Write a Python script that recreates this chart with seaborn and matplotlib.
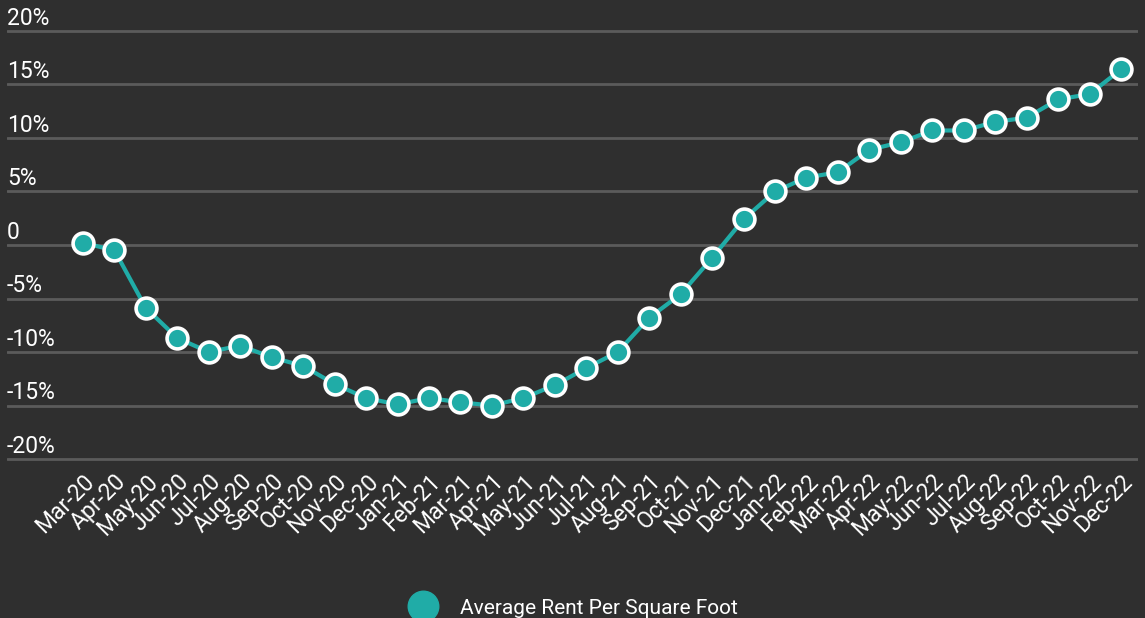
import matplotlib
matplotlib.use("Agg")
import matplotlib.pyplot as plt
from matplotlib.lines import Line2D
import seaborn as sns
import pandas as pd

months = ["Mar-20", "Apr-20", "May-20", "Jun-20", "Jul-20", "Aug-20", "Sep-20", "Oct-20",
          "Nov-20", "Dec-20", "Jan-21", "Feb-21", "Mar-21", "Apr-21", "May-21", "Jun-21",
          "Jul-21", "Aug-21", "Sep-21", "Oct-21", "Nov-21", "Dec-21", "Jan-22", "Feb-22",
          "Mar-22", "Apr-22", "May-22", "Jun-22", "Jul-22", "Aug-22", "Sep-22", "Oct-22",
          "Nov-22", "Dec-22"]
rent_change = [0.2, -0.5, -5.9, -8.7, -10.0, -9.4, -10.5, -11.3,
               -13.0, -14.3, -14.9, -14.3, -14.7, -15.0, -14.3, -13.1,
               -11.5, -10.0, -6.8, -4.6, -1.2, 2.4, 5.0, 6.3,
               6.8, 8.9, 9.6, 10.7, 10.7, 11.5, 11.9, 13.6,
               14.1, 16.4]
y_ticks = [-20, -15, -10, -5, 0, 5, 10, 15, 20]
y_tick_labels = ["-20%", "-15%", "-10%", "-5%", "0", "5%", "10%", "15%", "20%"]
series_name = "Average Rent Per Square Foot"

BG = "#2f2f2f"
TEAL = "#20aca7"
GRID = "#5b5b5b"

sns.set_theme(style="dark")
plt.rcParams["font.family"] = ["Roboto", "DejaVu Sans"]

df = pd.DataFrame({"idx": range(len(months)), "month": months, "value": rent_change})

W, H = 1145, 618
fig = plt.figure(figsize=(W / 100, H / 100), dpi=100, facecolor=BG)
left_px, right_px = 7, 1138
top_px, bot_px = 25.6, 464.4
ax = fig.add_axes([left_px / W, 1 - bot_px / H, (right_px - left_px) / W, (bot_px - top_px) / H])
ax.set_facecolor(BG)

for yt in y_ticks:
    ax.axhline(yt, color=GRID, lw=2.0, zorder=1)

sns.lineplot(data=df, x="idx", y="value", ax=ax, color=TEAL, lw=3, marker="o",
             markersize=15, markerfacecolor=TEAL, markeredgecolor="white",
             markeredgewidth=2.6, zorder=3, clip_on=False)

ax.set_xlim(-2.417, 33.54)
ax.set_ylim(-20.5, 20.5)
ax.set_xlabel("")
ax.set_ylabel("")
for s in ax.spines.values():
    s.set_visible(False)
ax.grid(False)

ax.set_yticks([])
for yt, lab in zip(y_ticks, y_tick_labels):
    ax.text(0.0, yt + 0.58, lab, transform=ax.get_yaxis_transform(), ha="left", va="baseline",
            color="white", fontsize=16.5)

ax.set_xticks(range(len(months)))
ax.set_xticklabels(months, rotation=45, ha="right", rotation_mode="anchor",
                   color="white", fontsize=16.5)
ax.tick_params(axis="x", length=0, pad=4)

handle = Line2D([], [], marker="o", linestyle="none", markersize=22,
                markerfacecolor=TEAL, markeredgecolor=TEAL)
leg = fig.legend([handle], [series_name], loc="center", bbox_to_anchor=(0.498, 10 / H),
                 frameon=False, fontsize=15, labelcolor="white", handletextpad=0.8)

fig.savefig("out.png", dpi=100, facecolor=BG)
